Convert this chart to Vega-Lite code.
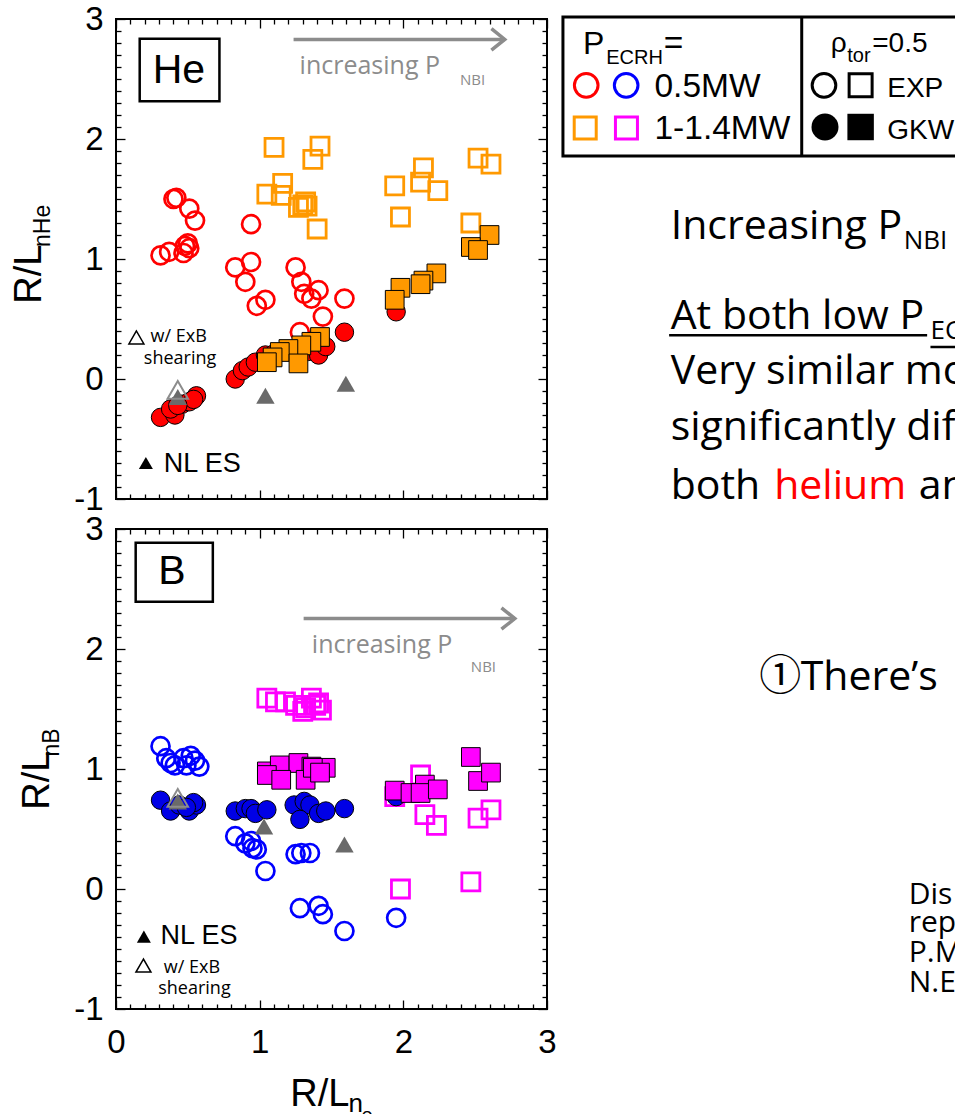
{
"$schema":"https://vega.github.io/schema/vega-lite/v6.json",
"background":"white",
"padding":{"left":10,"top":2,"right":5,"bottom":5},
"bounds":"flush",
"spacing":30,
"config":{"view":{"stroke":"#000000","strokeWidth":2},"axis":{"domain":false,"grid":false,"tickColor":"#000000","tickWidth":1.3,"labelFont":"Liberation Sans","labelFontSize":33,"labelColor":"#000000"}},
"datasets":{
"pts":[
{"p":"He","k":"c0","x":0.40,"y":1.50},{"p":"He","k":"c0","x":0.42,"y":1.51},{"p":"He","k":"c0","x":0.51,"y":1.42},{"p":"He","k":"c0","x":0.55,"y":1.32},{"p":"He","k":"c0","x":0.31,"y":1.03},{"p":"He","k":"c0","x":0.37,"y":1.06},{"p":"He","k":"c0","x":0.48,"y":1.11},{"p":"He","k":"c0","x":0.51,"y":1.09},{"p":"He","k":"c0","x":0.47,"y":1.05},{"p":"He","k":"c0","x":0.50,"y":1.13},{"p":"He","k":"c0","x":0.94,"y":1.29},{"p":"He","k":"c0","x":0.83,"y":0.93},{"p":"He","k":"c0","x":0.94,"y":0.975},{"p":"He","k":"c0","x":0.90,"y":0.81},{"p":"He","k":"c0","x":0.98,"y":0.61},{"p":"He","k":"c0","x":1.04,"y":0.66},{"p":"He","k":"c0","x":1.25,"y":0.93},{"p":"He","k":"c0","x":1.29,"y":0.81},{"p":"He","k":"c0","x":1.31,"y":0.71},{"p":"He","k":"c0","x":1.36,"y":0.67},{"p":"He","k":"c0","x":1.41,"y":0.74},{"p":"He","k":"c0","x":1.44,"y":0.52},{"p":"He","k":"c0","x":1.59,"y":0.67},{"p":"He","k":"c0","x":1.28,"y":0.39},
{"p":"He","k":"s0","x":1.10,"y":1.93},{"p":"He","k":"s0","x":1.42,"y":1.94},{"p":"He","k":"s0","x":1.37,"y":1.83},{"p":"He","k":"s0","x":1.16,"y":1.63},{"p":"He","k":"s0","x":1.05,"y":1.54},{"p":"He","k":"s0","x":1.15,"y":1.53},{"p":"He","k":"s0","x":1.32,"y":1.475},{"p":"He","k":"s0","x":1.27,"y":1.43},{"p":"He","k":"s0","x":1.30,"y":1.45},{"p":"He","k":"s0","x":1.33,"y":1.44},{"p":"He","k":"s0","x":1.40,"y":1.25},{"p":"He","k":"s0","x":1.94,"y":1.61},{"p":"He","k":"s0","x":2.14,"y":1.76},{"p":"He","k":"s0","x":2.12,"y":1.64},{"p":"He","k":"s0","x":2.24,"y":1.57},{"p":"He","k":"s0","x":1.98,"y":1.35},{"p":"He","k":"s0","x":2.52,"y":1.84},{"p":"He","k":"s0","x":2.61,"y":1.79},{"p":"He","k":"s0","x":2.47,"y":1.30},
{"p":"He","k":"c1","x":0.31,"y":-0.32},{"p":"He","k":"c1","x":0.41,"y":-0.30},{"p":"He","k":"c1","x":0.38,"y":-0.25},{"p":"He","k":"c1","x":0.46,"y":-0.21},{"p":"He","k":"c1","x":0.51,"y":-0.19},{"p":"He","k":"c1","x":0.56,"y":-0.14},{"p":"He","k":"c1","x":0.54,"y":-0.17},{"p":"He","k":"c1","x":0.43,"y":-0.22},{"p":"He","k":"c1","x":0.83,"y":0.0},{"p":"He","k":"c1","x":0.88,"y":0.07},{"p":"He","k":"c1","x":0.92,"y":0.10},{"p":"He","k":"c1","x":0.97,"y":0.14},{"p":"He","k":"c1","x":1.04,"y":0.20},{"p":"He","k":"c1","x":1.10,"y":0.21},{"p":"He","k":"c1","x":1.20,"y":0.24},{"p":"He","k":"c1","x":1.27,"y":0.27},{"p":"He","k":"c1","x":1.34,"y":0.23},{"p":"He","k":"c1","x":1.41,"y":0.20},{"p":"He","k":"c1","x":1.46,"y":0.27},{"p":"He","k":"c1","x":1.59,"y":0.39},{"p":"He","k":"c1","x":1.95,"y":0.56},
{"p":"He","k":"s1","x":2.60,"y":1.20},{"p":"He","k":"s1","x":2.47,"y":1.10},{"p":"He","k":"s1","x":2.52,"y":1.075},{"p":"He","k":"s1","x":2.23,"y":0.88},{"p":"He","k":"s1","x":2.14,"y":0.82},{"p":"He","k":"s1","x":2.12,"y":0.79},{"p":"He","k":"s1","x":1.98,"y":0.76},{"p":"He","k":"s1","x":1.94,"y":0.66},{"p":"He","k":"s1","x":1.42,"y":0.35},{"p":"He","k":"s1","x":1.36,"y":0.31},{"p":"He","k":"s1","x":1.29,"y":0.28},{"p":"He","k":"s1","x":1.20,"y":0.25},{"p":"He","k":"s1","x":1.14,"y":0.225},{"p":"He","k":"s1","x":1.09,"y":0.18},{"p":"He","k":"s1","x":1.05,"y":0.14},{"p":"He","k":"s1","x":1.27,"y":0.13},
{"p":"He","k":"t","x":0.43,"y":-0.15},{"p":"He","k":"t","x":1.04,"y":-0.14},{"p":"He","k":"t","x":1.60,"y":-0.04},
{"p":"He","k":"to","x":0.43,"y":-0.09},
{"p":"B","k":"c0","x":0.31,"y":1.19},{"p":"B","k":"c0","x":0.35,"y":1.09},{"p":"B","k":"c0","x":0.38,"y":1.05},{"p":"B","k":"c0","x":0.41,"y":1.03},{"p":"B","k":"c0","x":0.47,"y":1.09},{"p":"B","k":"c0","x":0.52,"y":1.11},{"p":"B","k":"c0","x":0.55,"y":1.07},{"p":"B","k":"c0","x":0.49,"y":1.03},{"p":"B","k":"c0","x":0.58,"y":1.02},{"p":"B","k":"c0","x":0.83,"y":0.44},{"p":"B","k":"c0","x":0.90,"y":0.38},{"p":"B","k":"c0","x":0.94,"y":0.40},{"p":"B","k":"c0","x":0.95,"y":0.34},{"p":"B","k":"c0","x":0.98,"y":0.33},{"p":"B","k":"c0","x":1.04,"y":0.15},{"p":"B","k":"c0","x":1.25,"y":0.29},{"p":"B","k":"c0","x":1.29,"y":0.30},{"p":"B","k":"c0","x":1.35,"y":0.30},{"p":"B","k":"c0","x":1.28,"y":-0.16},{"p":"B","k":"c0","x":1.41,"y":-0.14},{"p":"B","k":"c0","x":1.44,"y":-0.21},{"p":"B","k":"c0","x":1.59,"y":-0.35},{"p":"B","k":"c0","x":1.95,"y":-0.24},
{"p":"B","k":"s0","x":1.05,"y":1.59},{"p":"B","k":"s0","x":1.11,"y":1.56},{"p":"B","k":"s0","x":1.18,"y":1.56},{"p":"B","k":"s0","x":1.25,"y":1.53},{"p":"B","k":"s0","x":1.32,"y":1.51},{"p":"B","k":"s0","x":1.36,"y":1.59},{"p":"B","k":"s0","x":1.41,"y":1.55},{"p":"B","k":"s0","x":1.43,"y":1.49},{"p":"B","k":"s0","x":1.30,"y":1.48},{"p":"B","k":"s0","x":1.39,"y":1.53},{"p":"B","k":"s0","x":2.12,"y":0.95},{"p":"B","k":"s0","x":2.15,"y":0.62},{"p":"B","k":"s0","x":2.23,"y":0.53},{"p":"B","k":"s0","x":2.52,"y":0.59},{"p":"B","k":"s0","x":2.61,"y":0.66},{"p":"B","k":"s0","x":1.98,"y":0.0},{"p":"B","k":"s0","x":2.47,"y":0.06},{"p":"B","k":"s0","x":1.94,"y":0.77},
{"p":"B","k":"c1","x":0.31,"y":0.74},{"p":"B","k":"c1","x":0.38,"y":0.65},{"p":"B","k":"c1","x":0.44,"y":0.70},{"p":"B","k":"c1","x":0.51,"y":0.65},{"p":"B","k":"c1","x":0.56,"y":0.70},{"p":"B","k":"c1","x":0.54,"y":0.72},{"p":"B","k":"c1","x":0.49,"y":0.68},{"p":"B","k":"c1","x":0.83,"y":0.65},{"p":"B","k":"c1","x":0.90,"y":0.67},{"p":"B","k":"c1","x":0.94,"y":0.67},{"p":"B","k":"c1","x":0.97,"y":0.63},{"p":"B","k":"c1","x":1.05,"y":0.66},{"p":"B","k":"c1","x":1.24,"y":0.70},{"p":"B","k":"c1","x":1.31,"y":0.73},{"p":"B","k":"c1","x":1.35,"y":0.70},{"p":"B","k":"c1","x":1.28,"y":0.58},{"p":"B","k":"c1","x":1.41,"y":0.63},{"p":"B","k":"c1","x":1.46,"y":0.65},{"p":"B","k":"c1","x":1.59,"y":0.67},{"p":"B","k":"c1","x":1.95,"y":0.77},
{"p":"B","k":"s1","x":1.94,"y":0.82},{"p":"B","k":"s1","x":2.05,"y":0.80},{"p":"B","k":"s1","x":2.15,"y":0.87},{"p":"B","k":"s1","x":2.12,"y":0.80},{"p":"B","k":"s1","x":2.24,"y":0.83},{"p":"B","k":"s1","x":2.52,"y":0.90},{"p":"B","k":"s1","x":2.61,"y":0.97},{"p":"B","k":"s1","x":2.47,"y":1.10},{"p":"B","k":"s1","x":1.05,"y":0.98},{"p":"B","k":"s1","x":1.14,"y":1.03},{"p":"B","k":"s1","x":1.27,"y":1.05},{"p":"B","k":"s1","x":1.36,"y":1.02},{"p":"B","k":"s1","x":1.46,"y":1.01},{"p":"B","k":"s1","x":1.05,"y":0.95},{"p":"B","k":"s1","x":1.15,"y":0.91},{"p":"B","k":"s1","x":1.32,"y":0.91},{"p":"B","k":"s1","x":1.37,"y":1.01},{"p":"B","k":"s1","x":1.42,"y":0.97},
{"p":"B","k":"t","x":0.43,"y":0.73},{"p":"B","k":"t","x":1.03,"y":0.52},{"p":"B","k":"t","x":1.59,"y":0.37},
{"p":"B","k":"to","x":0.43,"y":0.76}
],
"ann":[
{"p":"He","g":"box","x":0.165,"x2":0.72,"y":2.836,"y2":2.314},
{"p":"He","g":"boxlbl","t":"He","x":0.4375,"y":2.57},
{"p":"He","g":"arr","x":1.236,"x2":2.706,"y":2.83},
{"p":"He","g":"head","x":2.613,"y":2.92,"o":1},{"p":"He","g":"head","x":2.706,"y":2.83,"o":2},{"p":"He","g":"head","x":2.613,"y":2.74,"o":3},
{"p":"He","g":"inc","t":"increasing P","x":1.278,"y":2.544},
{"p":"He","g":"nbi","t":"NBI","x":2.394,"y":2.447},
{"p":"He","g":"trio","x":0.142,"y":0.346},
{"p":"He","g":"exb","t":"w/ ExB","x":0.241,"y":0.308},
{"p":"He","g":"exb","t":"shearing","x":0.194,"y":0.1275},
{"p":"He","g":"trif","x":0.208,"y":-0.70},
{"p":"He","g":"nles","t":"NL ES","x":0.333,"y":-0.775},
{"p":"He","g":"ylab","t":"R/L","x":-0.521,"y":0.6275},
{"p":"He","g":"ysub","t":"nHe","x":-0.458,"y":1.1},
{"p":"B","g":"box","x":0.137,"x2":0.674,"y":2.886,"y2":2.393},
{"p":"B","g":"boxlbl","t":"B","x":0.39,"y":2.642},
{"p":"B","g":"arr","x":1.306,"x2":2.776,"y":2.254},
{"p":"B","g":"head","x":2.683,"y":2.343,"o":1},{"p":"B","g":"head","x":2.776,"y":2.254,"o":2},{"p":"B","g":"head","x":2.683,"y":2.165,"o":3},
{"p":"B","g":"inc","t":"increasing P","x":1.363,"y":1.963},
{"p":"B","g":"nbi","t":"NBI","x":2.470,"y":1.811},
{"p":"B","g":"trif","x":0.194,"y":-0.397},
{"p":"B","g":"nles","t":"NL ES","x":0.31,"y":-0.462},
{"p":"B","g":"trio","x":0.191,"y":-0.638},
{"p":"B","g":"exb","t":"w/ ExB","x":0.333,"y":-0.698},
{"p":"B","g":"exb","t":"shearing","x":0.294,"y":-0.878},
{"p":"B","g":"ylab","t":"R/L","x":-0.465,"y":0.661},
{"p":"B","g":"ysub","t":"nB","x":-0.396,"y":1.104},
{"p":"B","g":"xlab","t":"R/L","x":1.213,"y":-1.807},
{"p":"B","g":"xsub","t":"n","x":1.618,"y":-1.862},
{"p":"B","g":"xsub2","t":"e","x":1.708,"y":-1.94},
{"p":"He","g":"lgbox","x":3.111,"x2":5.95,"y":3.017,"y2":1.858},
{"p":"He","g":"lgdiv","x":4.773,"y":3.017,"y2":1.858},
{"p":"He","g":"lgP","t":"P","x":3.25,"y":2.711},
{"p":"He","g":"lgsub","t":"ECRH","x":3.412,"y":2.628},
{"p":"He","g":"lgsub","t":"tor","x":5.09,"y":2.642},
{"p":"He","g":"lgtxt","t":"=","x":3.812,"y":2.711},
{"p":"He","g":"lgtxt","t":"0.5MW","x":3.748,"y":2.35},
{"p":"He","g":"lgtxt","t":"1-1.4MW","x":3.748,"y":2.003},
{"p":"He","g":"lgtxt2","t":"ρ","x":4.975,"y":2.725},
{"p":"He","g":"lgtxt2","t":"=0.5","x":5.264,"y":2.725},
{"p":"He","g":"lgtxt2","t":"EXP","x":5.368,"y":2.35},
{"p":"He","g":"lgtxt2","t":"GKW","x":5.368,"y":2.003},
{"p":"He","g":"lgcr","x":3.273,"y":2.447},
{"p":"He","g":"lgcb","x":3.551,"y":2.447},
{"p":"He","g":"lgso","x":3.266,"y":2.092},
{"p":"He","g":"lgsm","x":3.553,"y":2.092},
{"p":"He","g":"lgck","x":4.928,"y":2.447},
{"p":"He","g":"lgsk","x":5.183,"y":2.447},
{"p":"He","g":"lgckf","x":4.935,"y":2.1},
{"p":"He","g":"lgskf","x":5.183,"y":2.1},
{"p":"He","g":"rt","t":"Increasing P","x":3.861,"y":1.169},
{"p":"He","g":"rt","t":"At both low P","x":3.861,"y":0.419},
{"p":"He","g":"rt","t":"Very similar mo","x":3.861,"y":-0.039},
{"p":"He","g":"rt","t":"significantly dif","x":3.861,"y":-0.511},
{"p":"He","g":"rt","t":"both","x":3.861,"y":-0.9975},
{"p":"He","g":"rt","t":"and","x":5.588,"y":-0.9975},
{"p":"He","g":"rt","t":"There’s","x":4.766,"y":-2.594},
{"p":"He","g":"rtred","t":"helium","x":4.581,"y":-0.9975},
{"p":"He","g":"rtsub","t":"NBI","x":5.483,"y":1.086},
{"p":"He","g":"rtsub","t":"ECRH","x":5.669,"y":0.336},
{"p":"He","g":"uline","x":3.85,"x2":5.646,"y":0.364},
{"p":"He","g":"uline","x":5.669,"x2":5.95,"y":0.267},
{"p":"He","g":"circ","t":"①","x":4.477,"y":-2.594},
{"p":"He","g":"rtsm","t":"Dis","x":5.518,"y":-4.373},
{"p":"He","g":"rtsm","t":"rep","x":5.518,"y":-4.608},
{"p":"He","g":"rtsm","t":"P.M","x":5.518,"y":-4.858},
{"p":"He","g":"rtsm","t":"N.E","x":5.518,"y":-5.108}
]
},
"vconcat":[
{
"width":431,"height":480,
"encoding":{"x":{"field":"x","type":"quantitative","scale":{"domain":[0,3],"nice":false,"zero":false},"axis":null},"y":{"field":"y","type":"quantitative","scale":{"domain":[-1,3],"nice":false,"zero":false},"axis":null}},
"resolve":{"axis":{"x":"independent","y":"independent"}},
"layer":[
{"data":{"name":"pts"},"transform":[{"filter":"datum.p=='He' && datum.k=='c0'"}],"mark":{"type":"point","shape":"circle","filled":false,"stroke":"#ff0000","strokeWidth":2.7,"size":324,"opacity":1,"clip":false},
"encoding":{"x":{"field":"x","type":"quantitative","scale":{"domain":[0,3],"nice":false,"zero":false},"axis":{"orient":"bottom","values":[0,0.1,0.2,0.3,0.4,0.5,0.6,0.7,0.8,0.9,1,1.1,1.2,1.3,1.4,1.5,1.6,1.7,1.8,1.9,2,2.1,2.2,2.3,2.4,2.5,2.6,2.7,2.8,2.9,3],"tickSize":{"condition":{"test":"abs(datum.value-round(datum.value))<0.001","value":-9},"value":-5},"labels":false,"title":null}},
"y":{"field":"y","type":"quantitative","scale":{"domain":[-1,3],"nice":false,"zero":false},"axis":{"orient":"left","values":[-1,-0.9,-0.8,-0.7,-0.6,-0.5,-0.4,-0.3,-0.2,-0.1,0,0.1,0.2,0.3,0.4,0.5,0.6,0.7,0.8,0.9,1,1.1,1.2,1.3,1.4,1.5,1.6,1.7,1.8,1.9,2,2.1,2.2,2.3,2.4,2.5,2.6,2.7,2.8,2.9,3],"tickSize":{"condition":{"test":"abs(datum.value-round(datum.value))<0.001","value":-9},"value":-5},"labelExpr":"abs(datum.value-round(datum.value))<0.001 ? ''+round(datum.value) : ''","labelPadding":22,"labelOverlap":false,"labelFlush":false,"labelAlign":"right","labelBaseline":"middle","title":null}}}},
{"data":{"name":"pts"},"transform":[{"filter":"datum.p=='He' && datum.k=='s0'"}],"mark":{"type":"point","shape":"square","filled":false,"stroke":"#ff9900","strokeWidth":2.8,"size":324,"opacity":1,"clip":false},
"encoding":{"x":{"field":"x","type":"quantitative","scale":{"domain":[0,3],"nice":false,"zero":false},"axis":{"orient":"top","values":[0,0.1,0.2,0.3,0.4,0.5,0.6,0.7,0.8,0.9,1,1.1,1.2,1.3,1.4,1.5,1.6,1.7,1.8,1.9,2,2.1,2.2,2.3,2.4,2.5,2.6,2.7,2.8,2.9,3],"tickSize":{"condition":{"test":"abs(datum.value-round(datum.value))<0.001","value":-9},"value":-5},"labels":false,"title":null}},
"y":{"field":"y","type":"quantitative","scale":{"domain":[-1,3],"nice":false,"zero":false},"axis":{"orient":"right","values":[-1,-0.9,-0.8,-0.7,-0.6,-0.5,-0.4,-0.3,-0.2,-0.1,0,0.1,0.2,0.3,0.4,0.5,0.6,0.7,0.8,0.9,1,1.1,1.2,1.3,1.4,1.5,1.6,1.7,1.8,1.9,2,2.1,2.2,2.3,2.4,2.5,2.6,2.7,2.8,2.9,3],"tickSize":{"condition":{"test":"abs(datum.value-round(datum.value))<0.001","value":-9},"value":-5},"labels":false,"title":null}}}},
{"data":{"name":"pts"},"transform":[{"filter":"datum.p=='He' && datum.k=='c1'"}],"mark":{"type":"point","shape":"circle","filled":true,"fill":"#ff0000","stroke":"#000000","strokeWidth":1,"size":340,"opacity":1,"clip":false}},
{"data":{"name":"pts"},"transform":[{"filter":"datum.p=='He' && datum.k=='s1'"}],"mark":{"type":"point","shape":"square","filled":true,"fill":"#ff9900","stroke":"#000000","strokeWidth":1,"size":350,"opacity":1,"clip":false}},
{"data":{"name":"pts"},"transform":[{"filter":"datum.p=='He' && datum.k=='t'"}],"mark":{"type":"point","shape":"triangle-up","filled":true,"fill":"#6a6a6a","strokeWidth":0,"size":340,"opacity":1,"clip":false}},
{"data":{"name":"pts"},"transform":[{"filter":"datum.p=='He' && datum.k=='to'"}],"mark":{"type":"point","shape":"triangle-up","filled":false,"stroke":"#8c8c8c","strokeWidth":2,"size":420,"opacity":1,"clip":false}},
{"data":{"name":"ann"},"transform":[{"filter":"datum.p=='He' && datum.g=='box'"}],"mark":{"type":"rect","fill":null,"fillOpacity":0,"stroke":"#000000","strokeWidth":2.5,"clip":false},"encoding":{"x2":{"field":"x2"},"y2":{"field":"y2"}}},
{"data":{"name":"ann"},"transform":[{"filter":"datum.p=='He' && datum.g=='boxlbl'"}],"mark":{"type":"text","font":"Liberation Sans","fontSize":41,"align":"center","baseline":"middle","fill":"#000000","clip":false},"encoding":{"text":{"field":"t"}}},
{"data":{"name":"ann"},"transform":[{"filter":"datum.p=='He' && datum.g=='arr'"}],"mark":{"type":"rule","stroke":"#8c8c8c","strokeWidth":3.5,"clip":false},"encoding":{"x2":{"field":"x2"}}},
{"data":{"name":"ann"},"transform":[{"filter":"datum.p=='He' && datum.g=='head'"}],"mark":{"type":"line","stroke":"#8c8c8c","strokeWidth":3.5,"clip":false},"encoding":{"order":{"field":"o"}}},
{"data":{"name":"ann"},"transform":[{"filter":"datum.p=='He' && datum.g=='inc'"}],"mark":{"type":"text","font":"Open Sans","fontSize":25,"align":"left","baseline":"alphabetic","fill":"#8c8c8c","clip":false},"encoding":{"text":{"field":"t"}}},
{"data":{"name":"ann"},"transform":[{"filter":"datum.p=='He' && datum.g=='nbi'"}],"mark":{"type":"text","font":"Open Sans","fontSize":15,"align":"left","baseline":"alphabetic","fill":"#8c8c8c","clip":false},"encoding":{"text":{"field":"t"}}},
{"data":{"name":"ann"},"transform":[{"filter":"datum.p=='He' && datum.g=='trio'"}],"mark":{"type":"point","shape":"triangle-up","filled":false,"stroke":"#000000","strokeWidth":1.5,"size":225,"opacity":1,"clip":false}},
{"data":{"name":"ann"},"transform":[{"filter":"datum.p=='He' && datum.g=='exb'"}],"mark":{"type":"text","font":"Open Sans","fontSize":18,"align":"left","baseline":"alphabetic","fill":"#000000","clip":false},"encoding":{"text":{"field":"t"}}},
{"data":{"name":"ann"},"transform":[{"filter":"datum.p=='He' && datum.g=='trif'"}],"mark":{"type":"point","shape":"triangle-up","filled":true,"fill":"#000000","strokeWidth":0,"size":196,"opacity":1,"clip":false}},
{"data":{"name":"ann"},"transform":[{"filter":"datum.p=='He' && datum.g=='nles'"}],"mark":{"type":"text","font":"Liberation Sans","fontSize":27,"align":"left","baseline":"alphabetic","fill":"#000000","clip":false},"encoding":{"text":{"field":"t"}}},
{"data":{"name":"ann"},"transform":[{"filter":"datum.p=='He' && datum.g=='ylab'"}],"mark":{"type":"text","font":"Liberation Sans","fontSize":38,"angle":270,"align":"left","baseline":"alphabetic","fill":"#000000","clip":false},"encoding":{"text":{"field":"t"}}},
{"data":{"name":"ann"},"transform":[{"filter":"datum.p=='He' && datum.g=='ysub'"}],"mark":{"type":"text","font":"Liberation Sans","fontSize":23,"angle":270,"align":"left","baseline":"alphabetic","fill":"#000000","clip":false},"encoding":{"text":{"field":"t"}}},
{"data":{"name":"ann"},"transform":[{"filter":"datum.g=='lgbox'"}],"mark":{"type":"rect","fill":null,"fillOpacity":0,"stroke":"#000000","strokeWidth":3,"clip":false},"encoding":{"x2":{"field":"x2"},"y2":{"field":"y2"}}},
{"data":{"name":"ann"},"transform":[{"filter":"datum.g=='lgdiv'"}],"mark":{"type":"rule","stroke":"#000000","strokeWidth":3,"clip":false},"encoding":{"y2":{"field":"y2"}}},
{"data":{"name":"ann"},"transform":[{"filter":"datum.g=='lgP'"}],"mark":{"type":"text","font":"Liberation Sans","fontSize":32,"align":"left","baseline":"alphabetic","fill":"#000000","clip":false},"encoding":{"text":{"field":"t"}}},
{"data":{"name":"ann"},"transform":[{"filter":"datum.g=='lgsub'"}],"mark":{"type":"text","font":"Liberation Sans","fontSize":20,"align":"left","baseline":"alphabetic","fill":"#000000","clip":false},"encoding":{"text":{"field":"t"}}},
{"data":{"name":"ann"},"transform":[{"filter":"datum.g=='lgtxt'"}],"mark":{"type":"text","font":"Liberation Sans","fontSize":33.5,"align":"left","baseline":"alphabetic","fill":"#000000","clip":false},"encoding":{"text":{"field":"t"}}},
{"data":{"name":"ann"},"transform":[{"filter":"datum.g=='lgtxt2'"}],"mark":{"type":"text","font":"Liberation Sans","fontSize":28,"align":"left","baseline":"alphabetic","fill":"#000000","clip":false},"encoding":{"text":{"field":"t"}}},
{"data":{"name":"ann"},"transform":[{"filter":"datum.g=='lgcr'"}],"mark":{"type":"point","shape":"circle","filled":false,"stroke":"#ff0000","strokeWidth":3,"size":560,"opacity":1,"clip":false}},
{"data":{"name":"ann"},"transform":[{"filter":"datum.g=='lgcb'"}],"mark":{"type":"point","shape":"circle","filled":false,"stroke":"#0000ff","strokeWidth":3,"size":560,"opacity":1,"clip":false}},
{"data":{"name":"ann"},"transform":[{"filter":"datum.g=='lgso'"}],"mark":{"type":"point","shape":"square","filled":false,"stroke":"#ff9900","strokeWidth":3,"size":484,"opacity":1,"clip":false}},
{"data":{"name":"ann"},"transform":[{"filter":"datum.g=='lgsm'"}],"mark":{"type":"point","shape":"square","filled":false,"stroke":"#ff00ff","strokeWidth":3,"size":484,"opacity":1,"clip":false}},
{"data":{"name":"ann"},"transform":[{"filter":"datum.g=='lgck'"}],"mark":{"type":"point","shape":"circle","filled":false,"stroke":"#000000","strokeWidth":3,"size":560,"opacity":1,"clip":false}},
{"data":{"name":"ann"},"transform":[{"filter":"datum.g=='lgsk'"}],"mark":{"type":"point","shape":"square","filled":false,"stroke":"#000000","strokeWidth":3,"size":529,"opacity":1,"clip":false}},
{"data":{"name":"ann"},"transform":[{"filter":"datum.g=='lgckf'"}],"mark":{"type":"point","shape":"circle","filled":true,"fill":"#000000","strokeWidth":0,"size":729,"opacity":1,"clip":false}},
{"data":{"name":"ann"},"transform":[{"filter":"datum.g=='lgskf'"}],"mark":{"type":"point","shape":"square","filled":true,"fill":"#000000","strokeWidth":0,"size":700,"opacity":1,"clip":false}},
{"data":{"name":"ann"},"transform":[{"filter":"datum.g=='rt'"}],"mark":{"type":"text","font":"Open Sans","fontSize":41,"align":"left","baseline":"alphabetic","fill":"#000000","clip":false},"encoding":{"text":{"field":"t"}}},
{"data":{"name":"ann"},"transform":[{"filter":"datum.g=='rtred'"}],"mark":{"type":"text","font":"Open Sans","fontSize":41,"align":"left","baseline":"alphabetic","fill":"#ff0000","clip":false},"encoding":{"text":{"field":"t"}}},
{"data":{"name":"ann"},"transform":[{"filter":"datum.g=='rtsub'"}],"mark":{"type":"text","font":"Open Sans","fontSize":26,"align":"left","baseline":"alphabetic","fill":"#000000","clip":false},"encoding":{"text":{"field":"t"}}},
{"data":{"name":"ann"},"transform":[{"filter":"datum.g=='uline'"}],"mark":{"type":"rule","stroke":"#000000","strokeWidth":2.5,"clip":false},"encoding":{"x2":{"field":"x2"}}},
{"data":{"name":"ann"},"transform":[{"filter":"datum.g=='circ'"}],"mark":{"type":"text","font":"Noto Sans CJK JP","fontSize":42,"align":"left","baseline":"alphabetic","fill":"#000000","clip":false},"encoding":{"text":{"field":"t"}}},
{"data":{"name":"ann"},"transform":[{"filter":"datum.g=='rtsm'"}],"mark":{"type":"text","font":"Open Sans","fontSize":30,"align":"left","baseline":"alphabetic","fill":"#000000","clip":false},"encoding":{"text":{"field":"t"}}}
]
},
{
"width":431,"height":480,
"encoding":{"x":{"field":"x","type":"quantitative","scale":{"domain":[0,3],"nice":false,"zero":false},"axis":null},"y":{"field":"y","type":"quantitative","scale":{"domain":[-1,3],"nice":false,"zero":false},"axis":null}},
"resolve":{"axis":{"x":"independent","y":"independent"}},
"layer":[
{"data":{"name":"pts"},"transform":[{"filter":"datum.p=='B' && datum.k=='c0'"}],"mark":{"type":"point","shape":"circle","filled":false,"stroke":"#0000ff","strokeWidth":2.7,"size":324,"opacity":1,"clip":false},
"encoding":{"x":{"field":"x","type":"quantitative","scale":{"domain":[0,3],"nice":false,"zero":false},"axis":{"orient":"bottom","values":[0,0.1,0.2,0.3,0.4,0.5,0.6,0.7,0.8,0.9,1,1.1,1.2,1.3,1.4,1.5,1.6,1.7,1.8,1.9,2,2.1,2.2,2.3,2.4,2.5,2.6,2.7,2.8,2.9,3],"tickSize":{"condition":{"test":"abs(datum.value-round(datum.value))<0.001","value":-9},"value":-5},"labelExpr":"abs(datum.value-round(datum.value))<0.001 ? ''+round(datum.value) : ''","labelPadding":26,"labelOverlap":false,"labelFlush":false,"title":null}},
"y":{"field":"y","type":"quantitative","scale":{"domain":[-1,3],"nice":false,"zero":false},"axis":{"orient":"left","values":[-1,-0.9,-0.8,-0.7,-0.6,-0.5,-0.4,-0.3,-0.2,-0.1,0,0.1,0.2,0.3,0.4,0.5,0.6,0.7,0.8,0.9,1,1.1,1.2,1.3,1.4,1.5,1.6,1.7,1.8,1.9,2,2.1,2.2,2.3,2.4,2.5,2.6,2.7,2.8,2.9,3],"tickSize":{"condition":{"test":"abs(datum.value-round(datum.value))<0.001","value":-9},"value":-5},"labelExpr":"abs(datum.value-round(datum.value))<0.001 ? ''+round(datum.value) : ''","labelPadding":22,"labelOverlap":false,"labelFlush":false,"labelAlign":"right","labelBaseline":"middle","title":null}}}},
{"data":{"name":"pts"},"transform":[{"filter":"datum.p=='B' && datum.k=='s0'"}],"mark":{"type":"point","shape":"square","filled":false,"stroke":"#ff00ff","strokeWidth":2.8,"size":324,"opacity":1,"clip":false},
"encoding":{"x":{"field":"x","type":"quantitative","scale":{"domain":[0,3],"nice":false,"zero":false},"axis":{"orient":"top","values":[0,0.1,0.2,0.3,0.4,0.5,0.6,0.7,0.8,0.9,1,1.1,1.2,1.3,1.4,1.5,1.6,1.7,1.8,1.9,2,2.1,2.2,2.3,2.4,2.5,2.6,2.7,2.8,2.9,3],"tickSize":{"condition":{"test":"abs(datum.value-round(datum.value))<0.001","value":-9},"value":-5},"labels":false,"title":null}},
"y":{"field":"y","type":"quantitative","scale":{"domain":[-1,3],"nice":false,"zero":false},"axis":{"orient":"right","values":[-1,-0.9,-0.8,-0.7,-0.6,-0.5,-0.4,-0.3,-0.2,-0.1,0,0.1,0.2,0.3,0.4,0.5,0.6,0.7,0.8,0.9,1,1.1,1.2,1.3,1.4,1.5,1.6,1.7,1.8,1.9,2,2.1,2.2,2.3,2.4,2.5,2.6,2.7,2.8,2.9,3],"tickSize":{"condition":{"test":"abs(datum.value-round(datum.value))<0.001","value":-9},"value":-5},"labels":false,"title":null}}}},
{"data":{"name":"pts"},"transform":[{"filter":"datum.p=='B' && datum.k=='c1'"}],"mark":{"type":"point","shape":"circle","filled":true,"fill":"#0000e6","stroke":"#000000","strokeWidth":1,"size":340,"opacity":1,"clip":false}},
{"data":{"name":"pts"},"transform":[{"filter":"datum.p=='B' && datum.k=='s1'"}],"mark":{"type":"point","shape":"square","filled":true,"fill":"#ff00ff","stroke":"#000000","strokeWidth":1,"size":350,"opacity":1,"clip":false}},
{"data":{"name":"pts"},"transform":[{"filter":"datum.p=='B' && datum.k=='t'"}],"mark":{"type":"point","shape":"triangle-up","filled":true,"fill":"#6a6a6a","strokeWidth":0,"size":340,"opacity":1,"clip":false}},
{"data":{"name":"pts"},"transform":[{"filter":"datum.p=='B' && datum.k=='to'"}],"mark":{"type":"point","shape":"triangle-up","filled":false,"stroke":"#8c8c8c","strokeWidth":2,"size":420,"opacity":1,"clip":false}},
{"data":{"name":"ann"},"transform":[{"filter":"datum.p=='B' && datum.g=='box'"}],"mark":{"type":"rect","fill":null,"fillOpacity":0,"stroke":"#000000","strokeWidth":2.5,"clip":false},"encoding":{"x2":{"field":"x2"},"y2":{"field":"y2"}}},
{"data":{"name":"ann"},"transform":[{"filter":"datum.p=='B' && datum.g=='boxlbl'"}],"mark":{"type":"text","font":"Liberation Sans","fontSize":41,"align":"center","baseline":"middle","fill":"#000000","clip":false},"encoding":{"text":{"field":"t"}}},
{"data":{"name":"ann"},"transform":[{"filter":"datum.p=='B' && datum.g=='arr'"}],"mark":{"type":"rule","stroke":"#8c8c8c","strokeWidth":3.5,"clip":false},"encoding":{"x2":{"field":"x2"}}},
{"data":{"name":"ann"},"transform":[{"filter":"datum.p=='B' && datum.g=='head'"}],"mark":{"type":"line","stroke":"#8c8c8c","strokeWidth":3.5,"clip":false},"encoding":{"order":{"field":"o"}}},
{"data":{"name":"ann"},"transform":[{"filter":"datum.p=='B' && datum.g=='inc'"}],"mark":{"type":"text","font":"Open Sans","fontSize":25,"align":"left","baseline":"alphabetic","fill":"#8c8c8c","clip":false},"encoding":{"text":{"field":"t"}}},
{"data":{"name":"ann"},"transform":[{"filter":"datum.p=='B' && datum.g=='nbi'"}],"mark":{"type":"text","font":"Open Sans","fontSize":15,"align":"left","baseline":"alphabetic","fill":"#8c8c8c","clip":false},"encoding":{"text":{"field":"t"}}},
{"data":{"name":"ann"},"transform":[{"filter":"datum.p=='B' && datum.g=='trio'"}],"mark":{"type":"point","shape":"triangle-up","filled":false,"stroke":"#000000","strokeWidth":1.5,"size":225,"opacity":1,"clip":false}},
{"data":{"name":"ann"},"transform":[{"filter":"datum.p=='B' && datum.g=='exb'"}],"mark":{"type":"text","font":"Open Sans","fontSize":18,"align":"left","baseline":"alphabetic","fill":"#000000","clip":false},"encoding":{"text":{"field":"t"}}},
{"data":{"name":"ann"},"transform":[{"filter":"datum.p=='B' && datum.g=='trif'"}],"mark":{"type":"point","shape":"triangle-up","filled":true,"fill":"#000000","strokeWidth":0,"size":196,"opacity":1,"clip":false}},
{"data":{"name":"ann"},"transform":[{"filter":"datum.p=='B' && datum.g=='nles'"}],"mark":{"type":"text","font":"Liberation Sans","fontSize":27,"align":"left","baseline":"alphabetic","fill":"#000000","clip":false},"encoding":{"text":{"field":"t"}}},
{"data":{"name":"ann"},"transform":[{"filter":"datum.p=='B' && datum.g=='ylab'"}],"mark":{"type":"text","font":"Liberation Sans","fontSize":38,"angle":270,"align":"left","baseline":"alphabetic","fill":"#000000","clip":false},"encoding":{"text":{"field":"t"}}},
{"data":{"name":"ann"},"transform":[{"filter":"datum.p=='B' && datum.g=='ysub'"}],"mark":{"type":"text","font":"Liberation Sans","fontSize":23,"angle":270,"align":"left","baseline":"alphabetic","fill":"#000000","clip":false},"encoding":{"text":{"field":"t"}}},
{"data":{"name":"ann"},"transform":[{"filter":"datum.p=='B' && datum.g=='xlab'"}],"mark":{"type":"text","font":"Liberation Sans","fontSize":38,"align":"left","baseline":"alphabetic","fill":"#000000","clip":false},"encoding":{"text":{"field":"t"}}},
{"data":{"name":"ann"},"transform":[{"filter":"datum.p=='B' && datum.g=='xsub'"}],"mark":{"type":"text","font":"Liberation Sans","fontSize":26,"align":"left","baseline":"alphabetic","fill":"#000000","clip":false},"encoding":{"text":{"field":"t"}}},
{"data":{"name":"ann"},"transform":[{"filter":"datum.p=='B' && datum.g=='xsub2'"}],"mark":{"type":"text","font":"Liberation Sans","fontSize":20,"align":"left","baseline":"alphabetic","fill":"#000000","clip":false},"encoding":{"text":{"field":"t"}}}
]
}
]
}
